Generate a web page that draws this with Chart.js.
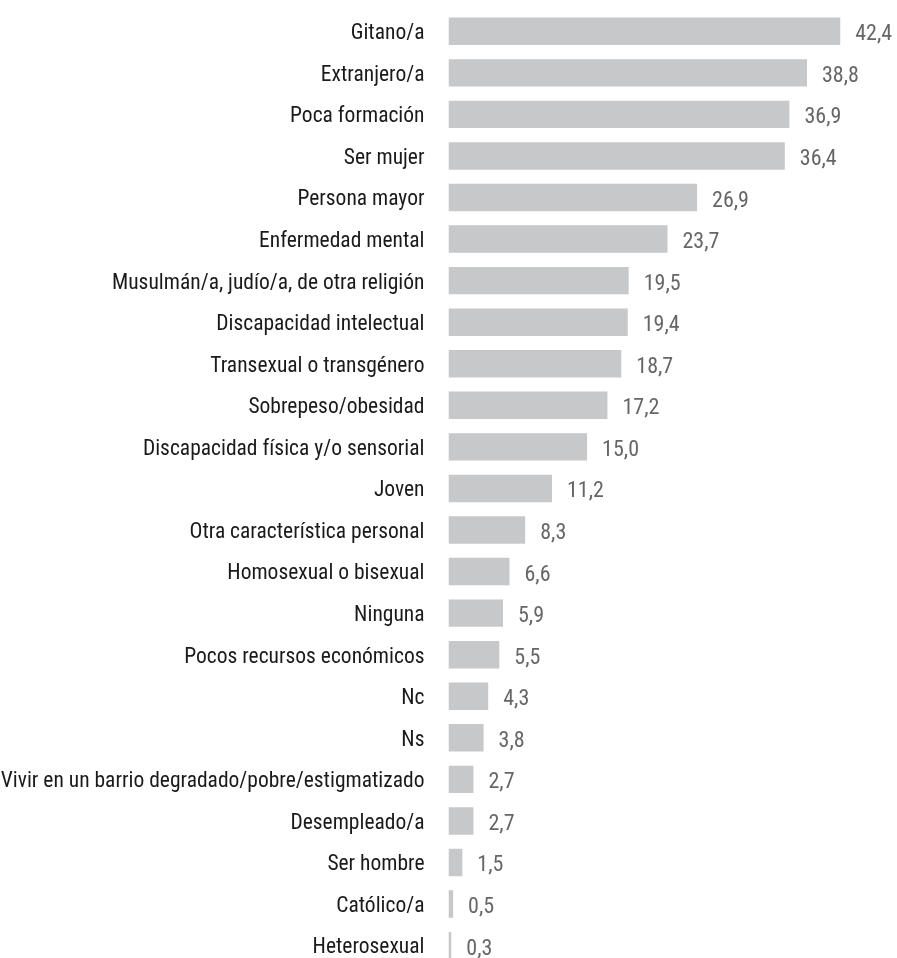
<!DOCTYPE html>
<html>
<head>
<meta charset="utf-8">
<script src="https://cdn.jsdelivr.net/npm/chart.js@4.4.1/dist/chart.umd.min.js"></script>
<style>
  html, body { margin: 0; padding: 0; background: #fff; overflow: hidden; }
  #wrap { position: relative; width: 897px; height: 978px; }
</style>
</head>
<body>
<div id="wrap"><canvas id="chart"></canvas></div>
<script>
// categorías y porcentajes
const categorias = [
  "Gitano/a", "Extranjero/a", "Poca formación", "Ser mujer", "Persona mayor",
  "Enfermedad mental", "Musulmán/a, judío/a, de otra religión", "Discapacidad intelectual",
  "Transexual o transgénero", "Sobrepeso/obesidad", "Discapacidad física y/o sensorial",
  "Joven", "Otra característica personal", "Homosexual o bisexual", "Ninguna",
  "Pocos recursos económicos", "Nc", "Ns", "Vivir en un barrio degradado/pobre/estigmatizado",
  "Desempleado/a", "Ser hombre", "Católico/a", "Heterosexual"
];
const valores = [
  42.4, 38.8, 36.9, 36.4, 26.9, 23.7, 19.5, 19.4, 18.7, 17.2, 15.0, 11.2,
  8.3, 6.6, 5.9, 5.5, 4.3, 3.8, 2.7, 2.7, 1.5, 0.5, 0.3
];

const fuente = "'Roboto Condensed', 'DejaVu Sans Condensed', sans-serif";

//etiquetas con el valor a la derecha de cada barra
const etiquetasValor = {
  id: "etiquetasValor",
  afterDatasetsDraw(chart) {
    const ctx = chart.ctx;
    const meta = chart.getDatasetMeta(0);
    ctx.save();
    ctx.font = "22px " + fuente;
    ctx.fillStyle = "#666666";
    ctx.textAlign = "left";
    ctx.textBaseline = "middle";
    meta.data.forEach((bar, i) => {
      ctx.fillText(valores[i].toFixed(1).replace(".", ","), bar.x + 15, bar.y + 3.5);
    });
    ctx.restore();
  }
};

const ctx = document.querySelector("#chart").getContext("2d");

new Chart(ctx, {
  type: "bar",
  data: {
    labels: categorias,
    datasets: [{
      data: valores,
      backgroundColor: "#c7c8ca",
      borderWidth: 0,
      barPercentage: 0.66,
      categoryPercentage: 1
    }]
  },
  options: {
    indexAxis: "y",
    responsive: true,
    maintainAspectRatio: false,
    animation: false,
    layout: { padding: { top: 10.5, right: 5, bottom: 11.6, left: 0 } },
    plugins: { legend: { display: false }, tooltip: { enabled: false } },
    scales: {
      x: { display: false, min: 0, max: 48 },
      y: {
        // la línea de ticks no se dibuja, solo sirve de hueco entre texto y barra
        grid: { display: false, drawTicks: true, tickLength: 24 },
        border: { display: false },
        ticks: {
          color: "#1a1a1a",
          padding: 0,
          labelOffset: 2.5,
          font: { family: fuente, size: 21.5, lineHeight: 0.8 }
        },
        afterFit: (scale) => { scale.width = 448.5; }
      }
    }
  },
  plugins: [etiquetasValor]
});
</script>
</body>
</html>
